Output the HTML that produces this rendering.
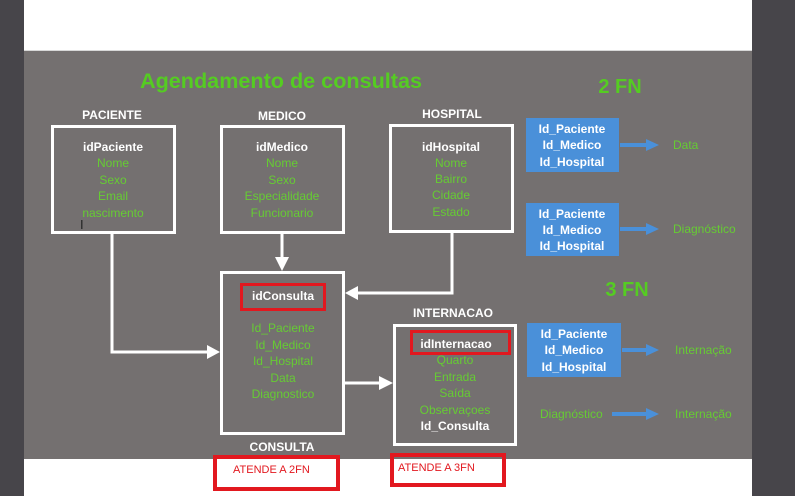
<!DOCTYPE html>
<html><head><meta charset="utf-8"><style>
html,body{margin:0;padding:0;background:#47454a;}
svg{display:block}
text{font-family:"Liberation Sans",sans-serif;}
</style></head><body>
<svg width="795" height="496" viewBox="0 0 795 496" xmlns="http://www.w3.org/2000/svg">
<rect x="0" y="0" width="795" height="496" fill="#47454a"/>
<rect x="24" y="0" width="728" height="496" fill="#ffffff"/>
<rect x="24" y="51" width="728" height="408" fill="#747070"/>
<rect x="24" y="50" width="728" height="1" fill="#d8d8d8"/>
<text x="281" y="88" text-anchor="middle" font-size="21" font-weight="bold" fill="#55cc22" textLength="282" lengthAdjust="spacingAndGlyphs">Agendamento de consultas</text>
<text x="620" y="93" text-anchor="middle" font-size="20" font-weight="bold" fill="#55cc22">2 FN</text>
<text x="627" y="296" text-anchor="middle" font-size="20" font-weight="bold" fill="#55cc22">3 FN</text>
<g font-size="12" font-weight="bold" fill="#fff" text-anchor="middle">
<text x="112" y="119">PACIENTE</text>
<text x="282" y="120">MEDICO</text>
<text x="452" y="118">HOSPITAL</text>
<text x="453" y="317">INTERNACAO</text>
<text x="282" y="451">CONSULTA</text>
</g>
<g fill="none" stroke="#fff" stroke-width="3">
<rect x="52.5" y="126.5" width="122" height="106"/>
<rect x="221.5" y="126.5" width="122" height="106"/>
<rect x="390.5" y="125.5" width="122" height="106"/>
<rect x="221.5" y="272.5" width="122" height="161"/>
<rect x="394.5" y="325.5" width="121" height="119"/>
<polyline points="112,234 112,352 208,352"/>
<line x1="282" y1="234" x2="282" y2="258"/>
<polyline points="452,233 452,293 357,293"/>
<line x1="345" y1="383" x2="380" y2="383"/>
</g>
<g fill="#fff">
<polygon points="220,352 207,345 207,359"/>
<polygon points="282,271 275,257 289,257"/>
<polygon points="345,293 358,286 358,300"/>
<polygon points="393,383 379,376 379,390"/>
</g>
<g fill="none" stroke="#e2181f" stroke-width="3">
<rect x="241.5" y="284.5" width="83" height="25"/>
<rect x="411.5" y="331.5" width="98" height="22"/>
</g>
<g fill="none" stroke="#e2181f" stroke-width="4">
<rect x="215" y="457" width="123" height="32"/>
<rect x="392" y="455" width="112" height="30"/>
</g>
<g font-size="11" fill="#e2181f">
<text x="233" y="473">ATENDE A 2FN</text>
<text x="398" y="471">ATENDE A 3FN</text>
</g>
<g font-size="12" text-anchor="middle" fill="#66cc33">
<text x="113" y="151" fill="#fff" font-weight="bold">idPaciente</text>
<text x="113" y="167">Nome</text>
<text x="113" y="184">Sexo</text>
<text x="113" y="200">Email</text>
<text x="113" y="217">nascimento</text>
<text x="282" y="151" fill="#fff" font-weight="bold">idMedico</text>
<text x="282" y="167">Nome</text>
<text x="282" y="184">Sexo</text>
<text x="282" y="200">Especialidade</text>
<text x="282" y="217">Funcionario</text>
<text x="451" y="151" fill="#fff" font-weight="bold">idHospital</text>
<text x="451" y="167">Nome</text>
<text x="451" y="183">Bairro</text>
<text x="451" y="199">Cidade</text>
<text x="451" y="216">Estado</text>
<text x="283" y="300" fill="#fff" font-weight="bold">idConsulta</text>
<text x="283" y="332">Id_Paciente</text>
<text x="283" y="349">Id_Medico</text>
<text x="283" y="365">Id_Hospital</text>
<text x="283" y="382">Data</text>
<text x="283" y="398">Diagnostico</text>
<text x="456" y="348" fill="#fff" font-weight="bold">idInternacao</text>
<text x="455" y="364">Quarto</text>
<text x="455" y="381">Entrada</text>
<text x="455" y="397">Saída</text>
<text x="455" y="414">Observaçoes</text>
<text x="455" y="430" fill="#fff" font-weight="bold">Id_Consulta</text>
</g>
<g fill="#4a90d9">
<rect x="526" y="118" width="93" height="54"/>
<rect x="526" y="203" width="93" height="53"/>
<rect x="527" y="323" width="94" height="54"/>
</g>
<g font-size="12" font-weight="bold" fill="#fff" text-anchor="middle">
<text x="572" y="133">Id_Paciente</text>
<text x="572" y="149">Id_Medico</text>
<text x="572" y="166">Id_Hospital</text>
<text x="572" y="218">Id_Paciente</text>
<text x="572" y="234">Id_Medico</text>
<text x="572" y="250">Id_Hospital</text>
<text x="574" y="338">Id_Paciente</text>
<text x="574" y="354">Id_Medico</text>
<text x="574" y="371">Id_Hospital</text>
</g>
<g stroke="#4a90d9" stroke-width="4">
<line x1="620" y1="145" x2="648" y2="145"/>
<line x1="620" y1="229" x2="648" y2="229"/>
<line x1="622" y1="350" x2="648" y2="350"/>
<line x1="612" y1="414" x2="648" y2="414"/>
</g>
<g fill="#4a90d9">
<polygon points="659,145 646,139 646,151"/>
<polygon points="659,229 646,223 646,235"/>
<polygon points="659,350 646,344 646,356"/>
<polygon points="659,414 646,408 646,420"/>
</g>
<g font-size="12" fill="#66cc33">
<text x="673" y="149">Data</text>
<text x="673" y="233">Diagnóstico</text>
<text x="675" y="354">Internação</text>
<text x="675" y="418">Internação</text>
<text x="540" y="418">Diagnóstico</text>
</g>
<text x="80" y="229" font-size="13" fill="#222">I</text>
</svg>
</body></html>
